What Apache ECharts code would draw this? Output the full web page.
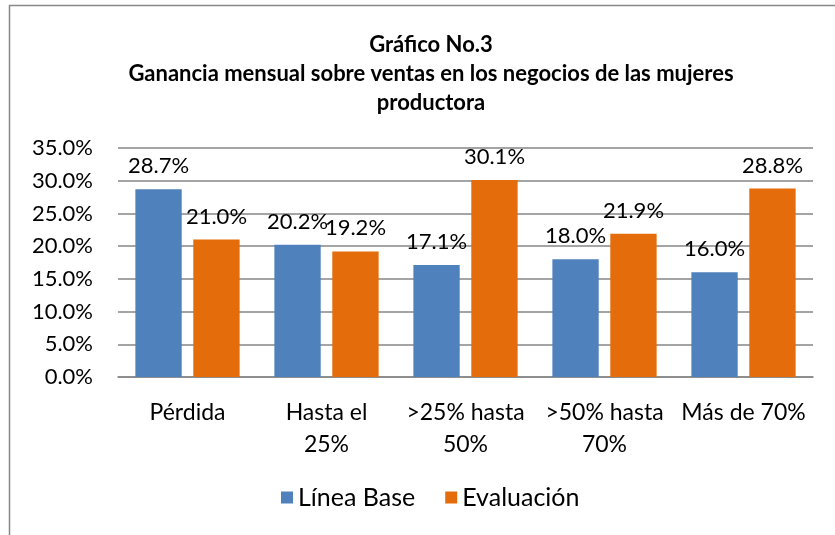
<!DOCTYPE html>
<html>
<head>
<meta charset="utf-8">
<script src="https://cdn.jsdelivr.net/npm/echarts@6/dist/echarts.min.js"></script>
<style>
  html, body { margin: 0; padding: 0; background: #fff; }
  #main { width: 835px; height: 535px; }
</style>
</head>
<body>
<div id="main"></div>
<script>
var categories = ['Pérdida', 'Hasta el\n25%', '>25% hasta\n50%', '>50% hasta\n70%', 'Más de 70%'];
var lineaBase = [28.7, 20.2, 17.1, 18.0, 16.0];
var evaluacion = [21.0, 19.2, 30.1, 21.9, 28.8];
var seriesNames = ['Línea Base', 'Evaluación'];

var font = 'Lato, "Liberation Sans", sans-serif';

var myChart = echarts.init(document.getElementById('main'));

var labelStyle = {
    show: true,
    position: 'top',
    distance: 12,
    color: '#000',
    fontSize: 22,
    fontFamily: font,
    formatter: function (p) { return p.value.toFixed(1) + '%'; }
};

myChart.setOption({
    animation: false,
    // marco del gráfico
    graphic: [{
        type: 'rect',
        shape: { x: 9.5, y: 5.5, width: 840, height: 545 },
        style: { fill: 'none', stroke: '#888', lineWidth: 1.5 },
        silent: true
    }],
    title: {
        text: 'Gráfico No.3\nGanancia mensual sobre ventas en los negocios de las mujeres\nproductora',
        left: 426,
        textAlign: 'center',
        top: 25,
        textStyle: {
            fontFamily: font,
            fontWeight: 'bold',
            fontSize: 22,
            lineHeight: 29,
            color: '#000'
        }
    },
    legend: {
        bottom: 20,
        left: 276,
        itemWidth: 12,
        itemHeight: 12,
        itemGap: 30,
        icon: 'rect',
        textStyle: { fontFamily: font, fontSize: 25, color: '#000' },
        data: seriesNames
    },
    grid: { left: 118, right: 22, top: 148, bottom: 158 },
    xAxis: {
        type: 'category',
        data: categories,
        axisTick: { show: false },
        axisLine: { lineStyle: { color: '#868686', width: 1.5 } },
        axisLabel: {
            color: '#000',
            fontFamily: font,
            fontSize: 23,
            lineHeight: 32,
            margin: 20,
            interval: 0
        }
    },
    yAxis: {
        type: 'value',
        min: 0,
        max: 35,
        interval: 5,
        axisLine: { show: false },
        axisTick: { show: false },
        splitLine: { lineStyle: { color: '#868686', width: 1.5 } },
        axisLabel: {
            color: '#000',
            fontFamily: font,
            fontSize: 22,
            margin: 25,
            formatter: function (v) { return v.toFixed(1) + '%'; }
        }
    },
    series: [{
        name: seriesNames[0],
        type: 'bar',
        data: lineaBase,
        barGap: '25%',
        barCategoryGap: '25%',
        itemStyle: { color: '#4F81BD' },
        label: labelStyle
    }, {
        name: seriesNames[1],
        type: 'bar',
        data: evaluacion,
        itemStyle: { color: '#E46C0A' },
        label: labelStyle
    }]
});
</script>
</body>
</html>
